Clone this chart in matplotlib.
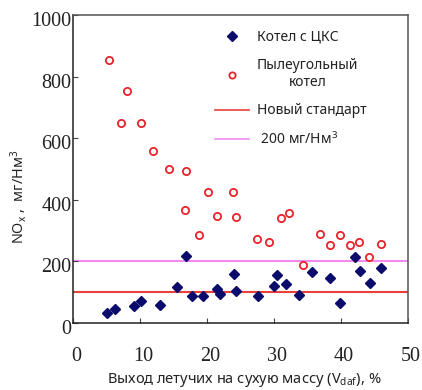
import matplotlib
matplotlib.use("Agg")
import matplotlib.pyplot as plt
from matplotlib.lines import Line2D
from matplotlib.transforms import ScaledTranslation

# CFB boiler (Котел с ЦКС)
cfb_x = [5.0, 6.2, 9.1, 10.1, 13.0, 15.5, 16.8, 17.7, 19.4, 21.5, 22.0, 24.0, 24.4,
         27.6, 30.0, 30.5, 31.8, 33.7, 35.7, 38.4, 39.9, 42.1, 42.8, 44.3, 46.0]
cfb_y = [31, 45, 55, 73, 60, 118, 219, 88, 88, 112, 95, 160, 105,
         88, 119, 156, 128, 92, 164, 147, 65, 215, 169, 129, 179]

# Pulverized coal boiler (Пылеугольный котел)
pc_x = [5.3, 8.1, 7.2, 10.1, 12.0, 14.3, 16.9, 20.2, 23.9, 16.7, 21.5, 24.3, 18.8,
        27.5, 29.2, 31.0, 32.3, 34.3, 36.8, 38.3, 39.8, 41.4, 42.7, 44.2, 45.9]
pc_y = [854, 754, 649, 649, 558, 500, 495, 426, 426, 368, 348, 344, 285,
        272, 263, 340, 358, 188, 290, 253, 285, 253, 263, 213, 258]

new_standard = 100
limit_200 = 200

x_ticks = [0, 10, 20, 30, 40, 50]
y_ticks = [0, 200, 400, 600, 800, 1000]

sans = ['Noto Sans', 'DejaVu Sans']
serif = ['Liberation Serif', 'DejaVu Serif']
plt.rcParams['font.family'] = sans

fig = plt.figure(figsize=(4.22, 3.90), dpi=100)
ax = fig.add_axes([73/422, 67/390, 335/422, 308/390])

navy = '#0b0b6b'
red = '#e8242b'
redline = '#e8403a'
pink = '#f08cf0'

ax.axhline(new_standard, color=redline, lw=1.5, zorder=1)
ax.axhline(limit_200, color=pink, lw=1.5, zorder=1)
ax.plot(pc_x, pc_y, 'o', ms=5.2, mfc='none', mec=red, mew=1.3, zorder=3)
ax.plot(cfb_x, cfb_y, 'D', ms=5.5, mfc=navy, mec=navy, zorder=3)

ax.set_xlim(0, 50)
ax.set_ylim(0, 1000)
ax.set_xticks(x_ticks)
ax.set_yticks(y_ticks)
ax.set_xticklabels([str(v) for v in x_ticks], fontfamily=serif, fontsize=14.5, color='#222222')
ax.set_yticklabels([str(v) for v in y_ticks], fontfamily=serif, fontsize=14.5, color='#222222')
ax.tick_params(axis='x', direction='in', length=3.5, width=0.8, pad=17, color='#444444')
ax.tick_params(axis='y', direction='in', length=3.5, width=0.8, pad=1, color='#444444')

for lbl in ax.get_xticklabels():
    lbl.set_transform(lbl.get_transform() + ScaledTranslation(3/100, 0, fig.dpi_scale_trans))
for lbl in ax.get_yticklabels():
    lbl.set_transform(lbl.get_transform() + ScaledTranslation(0, -4/100, fig.dpi_scale_trans))

for s in ['left', 'bottom']:
    ax.spines[s].set_color('#222222')
    ax.spines[s].set_linewidth(1.1)
for s in ['top', 'right']:
    ax.spines[s].set_color('#555555')
    ax.spines[s].set_linewidth(1.1)

ax.set_xlabel(r'Выход летучих на сухую массу (V$_\mathregular{daf}$), %', fontsize=10.5, color='#222222')
ax.xaxis.set_label_coords(0.51, -0.155)
ax.set_ylabel(r'NO$_\mathregular{x}$ ,  мг/Нм$^\mathregular{3}$', fontsize=10.3, color='#222222')
ax.yaxis.set_label_coords(-0.13, 0.41)

handles = [
    Line2D([], [], ls='none', marker='D', ms=5.5, mfc=navy, mec=navy),
    Line2D([], [], ls='none', marker='o', ms=4.5, mfc='none', mec=red, mew=1.3),
    Line2D([], [], color=redline, lw=1.2),
    Line2D([], [], color=pink, lw=1.2),
]
labels = ['Котел с ЦКС', 'Пылеугольный\nкотел', 'Новый стандарт', r' 200 мг/Нм$^\mathregular{3}$']
leg = ax.legend(handles, labels, loc='upper left', bbox_to_anchor=(0.425, 0.952),
                frameon=False, fontsize=10, handlelength=2.4, handletextpad=0.6,
                labelspacing=0.95, borderpad=0, borderaxespad=0)
for t in leg.get_texts():
    t.set_multialignment('center')
    t.set_color('#222222')

fig.savefig('out.png', dpi=100)
